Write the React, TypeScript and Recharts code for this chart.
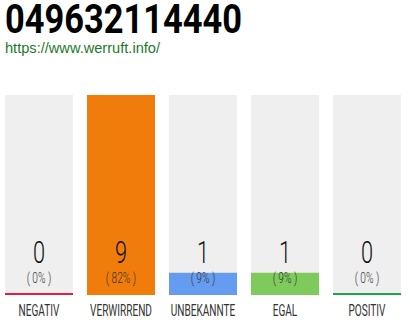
import React from 'react';
import { BarChart, Bar, XAxis, YAxis, Cell, LabelList } from 'recharts';

const categories = ['NEGATIV', 'VERWIRREND', 'UNBEKANNTE', 'EGAL', 'POSITIV'];
const votes = [0, 9, 1, 1, 0];
const percents = [0, 82, 9, 9, 0];
const barColors = ['#e0213f', '#f07c0b', '#659cef', '#7ecb5c', '#1ea34a'];

const phoneNumber = '049632114440';
const siteUrl = 'https://www.werruft.info/';

const data = categories.map((name, i) => ({ name, votes: votes[i], pct: percents[i] }));

const FONT = 'Roboto, sans-serif';

// zero-vote bars still get a thin coloured strip along the bottom
const VoteBar = (props: any) => {
  const { x, y, width, height, fill } = props;
  if (height < 2) {
    return <rect x={x} y={y + height - 2} width={width} height={2} fill={fill} />;
  }
  return <rect x={x} y={y} width={width} height={height} fill={fill} />;
};

const VoteLabel = (props: any) => {
  const { x, y, width, height, index } = props;
  const cx = x + width / 2;
  const bottom = y + height;
  return (
    <g>
      <text
        transform={`translate(${cx},${bottom - 32}) scale(0.68,1)`}
        textAnchor="middle"
        fontFamily={FONT}
        fontWeight={300}
        fontSize={32}
        fill="#111"
      >
        {votes[index]}
      </text>
      <text
        transform={`translate(${cx},${bottom - 12}) scale(0.68,1)`}
        textAnchor="middle"
        fontFamily={FONT}
        fontWeight={300}
        fontSize={15}
        fill="#333"
      >
        {`( ${percents[index]}% )`}
      </text>
    </g>
  );
};

const CategoryTick = (props: any) => {
  const { x, y, payload } = props;
  return (
    <text
      transform={`translate(${x},${y + 13}) scale(0.63,1)`}
      textAnchor="middle"
      fontFamily={FONT}
      fontWeight={400}
      fontSize={16}
      fill="#333"
    >
      {payload.value}
    </text>
  );
};

export default function App() {
  return (
    <div style={{ position: 'relative', width: 410, height: 320 }}>
      <style>{'body{margin:0}'}</style>
      <svg width={410} height={60} style={{ position: 'absolute', left: 0, top: 0 }}>
        <text
          x={5}
          y={33}
          textLength={237}
          lengthAdjust="spacingAndGlyphs"
          fontFamily={FONT}
          fontWeight={700}
          fontSize={40}
          fill="#000"
        >
          {phoneNumber}
        </text>
        <text
          x={5}
          y={53}
          textLength={155}
          lengthAdjust="spacingAndGlyphs"
          fontFamily="'Liberation Sans', Arial, sans-serif"
          fontSize={15}
          fill="#1c7a2c"
        >
          {siteUrl}
        </text>
      </svg>
      <BarChart
        width={410}
        height={320}
        data={data}
        margin={{ top: 95, right: 2, left: -2, bottom: 0 }}
        barCategoryGap={7}
      >
        <XAxis
          dataKey="name"
          axisLine={false}
          tickLine={false}
          height={25}
          interval={0}
          tick={<CategoryTick />}
        />
        <YAxis hide domain={[0, 'dataMax']} />
        <Bar
          dataKey="votes"
          isAnimationActive={false}
          background={{ fill: '#efefef' }}
          shape={<VoteBar />}
        >
          {data.map((d, i) => (
            <Cell key={d.name} fill={barColors[i]} />
          ))}
          <LabelList dataKey="votes" content={<VoteLabel />} />
        </Bar>
      </BarChart>
    </div>
  );
}
